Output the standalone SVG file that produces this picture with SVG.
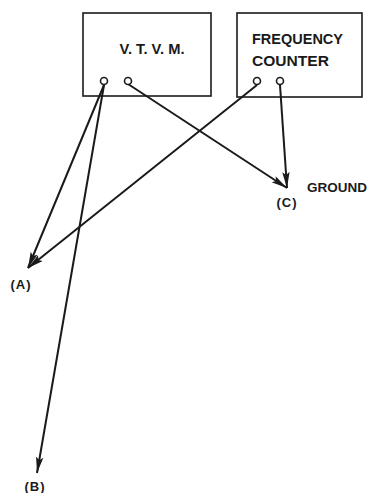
<svg xmlns="http://www.w3.org/2000/svg" width="371" height="493" viewBox="0 0 371 493">
<style>
.box{fill:none;stroke:#1a1a1a;stroke-width:1.6}
.term{fill:#fff;stroke:#1a1a1a;stroke-width:1.6}
.wire{fill:none;stroke:#1a1a1a;stroke-width:2}
text{font-family:"Liberation Sans",Arial,sans-serif;font-weight:bold;fill:#1a1a1a}
</style>
<defs>
<marker id="arr" markerUnits="userSpaceOnUse" markerWidth="18" markerHeight="10" refX="16" refY="4.5" orient="auto">
<path d="M0,0.8 L16,4.5 L0,8.2 L3,4.5 Z" fill="#1a1a1a"/>
</marker>
</defs>
<rect width="371" height="493" fill="#fff"/>
<g id="connectors">
<line class="wire" x1="104" y1="85" x2="28" y2="268" marker-end="url(#arr)"/>
<line class="wire" x1="104" y1="85" x2="37" y2="473" marker-end="url(#arr)"/>
<line class="wire" x1="128" y1="84" x2="287" y2="188" marker-end="url(#arr)"/>
<line class="wire" x1="257" y1="85" x2="28" y2="268" marker-end="url(#arr)"/>
<line class="wire" x1="280" y1="85" x2="287" y2="188" marker-end="url(#arr)"/>
</g>
<g id="vtvm">
<rect class="box" x="83" y="13" width="128" height="83"/>
<text x="152" y="54" text-anchor="middle" font-size="14" textLength="65" lengthAdjust="spacingAndGlyphs">V. T. V. M.</text>
<circle class="term" cx="104" cy="81" r="3.5"/>
<circle class="term" cx="128" cy="81" r="3.5"/>
</g>
<g id="counter">
<rect class="box" x="237" y="13" width="125" height="84"/>
<text x="252" y="44" font-size="14" textLength="91" lengthAdjust="spacingAndGlyphs">FREQUENCY</text>
<text x="252" y="66" font-size="14" textLength="77" lengthAdjust="spacingAndGlyphs">COUNTER</text>
<circle class="term" cx="257" cy="81" r="3.5"/>
<circle class="term" cx="280" cy="81" r="3.5"/>
</g>
<g id="labelA"><text x="21" y="289" text-anchor="middle" font-size="13" letter-spacing="1">(A)</text></g>
<g id="labelB"><text x="35" y="491" text-anchor="middle" font-size="13" letter-spacing="1">(B)</text></g>
<g id="labelC"><text x="287" y="207" text-anchor="middle" font-size="13" letter-spacing="1">(C)</text></g>
<g id="ground"><text x="307" y="192" font-size="13" textLength="60" lengthAdjust="spacingAndGlyphs">GROUND</text></g>
</svg>
